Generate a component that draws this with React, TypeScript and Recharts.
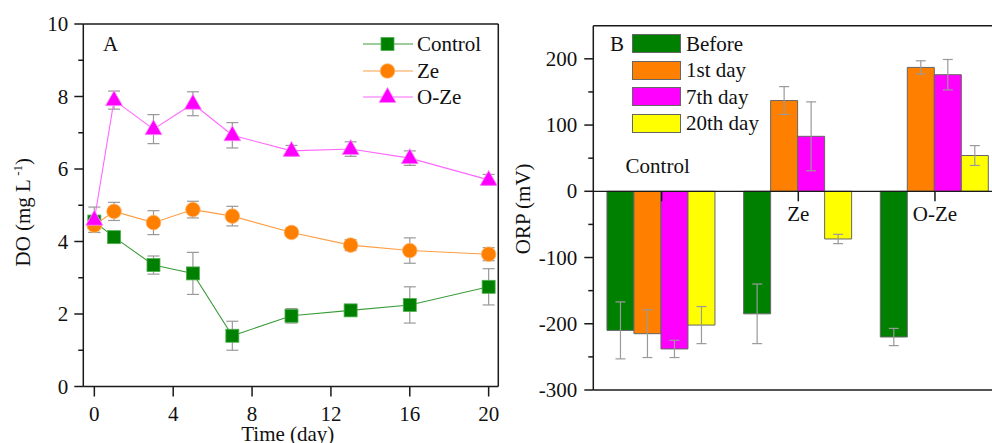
import React from 'react'
import {
  LineChart,
  Line,
  BarChart,
  Bar,
  XAxis,
  YAxis,
  ErrorBar,
  Legend,
  ReferenceLine,
} from 'recharts'

const FONT = '"Liberation Serif", "Times New Roman", Times, serif'
const AXIS = '#1a1a1a'
const ERR = '#9a9a9a'
const FS = 21

// Panel A - dissolved oxygen over time
const days = [0, 1, 3, 5, 7, 10, 13, 16, 20]
const controlDO = [4.55, 4.12, 3.35, 3.12, 1.4, 1.95, 2.1, 2.25, 2.75]
const controlErr = [0.15, 0.1, 0.25, 0.58, 0.4, 0.2, 0.1, 0.5, 0.5]
const zeDO = [4.45, 4.83, 4.52, 4.88, 4.7, 4.25, 3.9, 3.75, 3.65]
const zeErr = [0.2, 0.25, 0.33, 0.23, 0.27, 0.1, 0.15, 0.35, 0.18]
const oZeDO = [4.6, 7.9, 7.1, 7.8, 6.93, 6.5, 6.55, 6.3, 5.7]
const oZeErr = [0.35, 0.25, 0.4, 0.33, 0.35, 0.15, 0.2, 0.2, 0.15]
const dayTicks = [0, 4, 8, 12, 16, 20]
const doTicks = [0, 1, 2, 3, 4, 5, 6, 7, 8, 9, 10]
const doLabels = [0, 2, 4, 6, 8, 10]

// Panel B - ORP
const groups = ['Control', 'Ze', 'O-Ze']
const before = [-210, -185, -220]
const beforeErr = [43, 45, 13]
const day1 = [-215, 137, 187]
const day1Err = [36, 21, 10]
const day7 = [-238, 83, 176]
const day7Err = [13, 52, 23]
const day20 = [-202, -72, 54]
const day20Err = [28, 7, 15]
const orpTicks = [-300, -250, -200, -150, -100, -50, 0, 50, 100, 150, 200]
const orpLabels = [-300, -200, -100, 0, 100, 200]
const ORP_MIN = -300
const ORP_MAX = 250

const doRows = days.map((d, i) => ({
  day: d,
  control: controlDO[i],
  controlErr: controlErr[i],
  ze: zeDO[i],
  zeErr: zeErr[i],
  oze: oZeDO[i],
  ozeErr: oZeErr[i],
}))

const orpRows = groups.map((g, i) => ({
  name: g,
  before: before[i],
  beforeErr: beforeErr[i],
  day1: day1[i],
  day1Err: day1Err[i],
  day7: day7[i],
  day7Err: day7Err[i],
  day20: day20[i],
  day20Err: day20Err[i],
}))

const seriesA = [
  { key: 'control', name: 'Control', fill: '#008000', line: '#3c9c3c', shape: 'square' },
  { key: 'ze', name: 'Ze', fill: '#FF8000', line: '#ff9d45', shape: 'circle' },
  { key: 'oze', name: 'O-Ze', fill: '#FF00FF', line: '#ff66ff', shape: 'triangle' },
]

const seriesB = [
  { key: 'before', name: 'Before', fill: '#008000' },
  { key: 'day1', name: '1st day', fill: '#FF8000' },
  { key: 'day7', name: '7th day', fill: '#FF00FF' },
  { key: 'day20', name: '20th day', fill: '#FFFF00' },
]

// axes are 1px wide/high, so margins are the plot edges minus 1
const A_MARGIN = { top: 23, right: 0.7, bottom: 55.5, left: 82.3 }
const B_MARGIN = { top: 24.7, right: 6.7, bottom: 52, left: 92.3 }
const B_H = 443

function Marker({ shape, cx, cy, fill }: any) {
  if (shape === 'square') {
    return <rect x={cx - 6.5} y={cy - 6.5} width={13} height={13} fill={fill} stroke="#4fae4f" strokeWidth={0.8} />
  }
  if (shape === 'circle') {
    return <circle cx={cx} cy={cy} r={7.3} fill={fill} stroke="#ffb36b" strokeWidth={0.8} />
  }
  return (
    <polygon
      points={`${cx},${cy - 9.5} ${cx - 8.5},${cy + 5.5} ${cx + 8.5},${cy + 5.5}`}
      fill={fill}
      stroke="#ff8cff"
      strokeWidth={0.8}
    />
  )
}

const textStyle = { fontFamily: FONT, fontSize: FS, fill: '#111' }

function DayTick({ x, y, payload }: any) {
  return (
    <g>
      <line x1={x} x2={x} y1={y} y2={y + 10} stroke={AXIS} strokeWidth={1.5} />
      <text x={x} y={y + 34.5} textAnchor="middle" style={textStyle}>
        {payload.value}
      </text>
    </g>
  )
}

function DoTick({ x, y, payload }: any) {
  const v = payload.value
  const major = doLabels.includes(v)
  return (
    <g>
      <line x1={x} x2={x - (major ? 9 : 5)} y1={y} y2={y} stroke={AXIS} strokeWidth={1.5} />
      {major && (
        <text x={x - 15} y={y + 7} textAnchor="end" style={textStyle}>
          {v}
        </text>
      )}
    </g>
  )
}

function OrpTick({ x, y, payload }: any) {
  const v = payload.value
  const major = orpLabels.includes(v)
  return (
    <g>
      <line x1={x} x2={x - (major ? 9 : 5)} y1={y} y2={y} stroke={AXIS} strokeWidth={1.5} />
      {major && (
        <text x={x - 16} y={y + 7} textAnchor="end" style={textStyle}>
          {v}
        </text>
      )}
    </g>
  )
}

function GroupTick({ x, y, payload }: any) {
  const plotH = B_H - B_MARGIN.top - B_MARGIN.bottom - 2
  const zeroY = y - (plotH * (0 - ORP_MIN)) / (ORP_MAX - ORP_MIN)
  const above = payload.value === 'Control'
  return (
    <g>
      <line x1={x} x2={x} y1={zeroY} y2={zeroY + 10} stroke={AXIS} strokeWidth={1.5} />
      <text x={above ? x - 4 : x} y={above ? zeroY - 18 : zeroY + 30} textAnchor="middle" style={textStyle}>
        {payload.value}
      </text>
    </g>
  )
}

function TimeLabel({ viewBox }: any) {
  return (
    <text x={viewBox.x + viewBox.width / 2 - 3} y={viewBox.y + 54.5} textAnchor="middle" style={textStyle}>
      Time (day)
    </text>
  )
}

function DoLabel({ viewBox }: any) {
  const cx = viewBox.x + viewBox.width - 53
  const cy = viewBox.y + viewBox.height / 2 + 7
  return (
    <text x={cx} y={cy} textAnchor="middle" transform={`rotate(-90 ${cx} ${cy})`} style={textStyle}>
      DO (mg L
      <tspan dy={-8} fontSize={13}>
        {' -1'}
      </tspan>
      <tspan dy={8}>)</tspan>
    </text>
  )
}

function OrpLabel({ viewBox }: any) {
  const cx = viewBox.x + viewBox.width - 63
  const cy = viewBox.y + viewBox.height / 2 + 1
  return (
    <text x={cx} y={cy} textAnchor="middle" transform={`rotate(-90 ${cx} ${cy})`} style={textStyle}>
      ORP (mV)
    </text>
  )
}

function LegendA() {
  return (
    <div style={{ fontFamily: FONT, fontSize: FS, color: '#111' }}>
      {seriesA.map((s) => (
        <div key={s.key} style={{ display: 'flex', alignItems: 'center', height: 26.5 }}>
          <svg width={50} height={20} style={{ overflow: 'visible' }}>
            <line x1={0} x2={50} y1={10} y2={10} stroke={s.line} strokeWidth={1.2} />
            <Marker shape={s.shape} cx={24.5} cy={10} fill={s.fill} />
          </svg>
          <span style={{ marginLeft: 4, lineHeight: '26px' }}>{s.name}</span>
        </div>
      ))}
    </div>
  )
}

function LegendB() {
  return (
    <div style={{ fontFamily: FONT, fontSize: FS, color: '#111' }}>
      {seriesB.map((s) => (
        <div key={s.key} style={{ display: 'flex', alignItems: 'center', height: 26.5 }}>
          <div
            style={{
              width: 47,
              height: 17,
              background: s.fill,
              border: '1px solid #666',
            }}
          />
          <span style={{ marginLeft: 5, lineHeight: '26px' }}>{s.name}</span>
        </div>
      ))}
    </div>
  )
}

export default function App() {
  return (
    <div
      style={{
        position: 'absolute',
        left: 0,
        top: 0,
        width: 992,
        height: 443,
        overflow: 'hidden',
        background: '#fff',
      }}
    >
      <div style={{ position: 'absolute', left: 0, top: 0 }}>
        <LineChart width={500} height={443} data={doRows} margin={A_MARGIN}>
          <XAxis
            dataKey="day"
            type="number"
            domain={[-0.56, 20.49]}
            allowDataOverflow
            ticks={dayTicks}
            interval={0}
            tick={(p: any) => <DayTick {...p} />}
            tickLine={false}
            tickSize={0}
            tickMargin={0}
            height={1}
            axisLine={{ stroke: AXIS, strokeWidth: 1.5 }}
            label={(p: any) => <TimeLabel {...p} />}
          />
          <XAxis
            xAxisId="top"
            orientation="top"
            type="number"
            domain={[-0.56, 20.49]}
            tick={false}
            tickLine={false}
            height={1}
            axisLine={{ stroke: AXIS, strokeWidth: 1.5 }}
          />
          <YAxis
            type="number"
            domain={[0, 10]}
            allowDataOverflow
            ticks={doTicks}
            interval={0}
            tick={(p: any) => <DoTick {...p} />}
            tickLine={false}
            tickSize={0}
            tickMargin={0}
            width={1}
            axisLine={{ stroke: AXIS, strokeWidth: 1.5 }}
            label={(p: any) => <DoLabel {...p} />}
          />
          <YAxis
            yAxisId="right"
            orientation="right"
            type="number"
            domain={[0, 10]}
            tick={false}
            tickLine={false}
            width={1}
            axisLine={{ stroke: AXIS, strokeWidth: 1.5 }}
          />
          <Legend
            layout="vertical"
            align="center"
            verticalAlign="middle"
            wrapperStyle={{ left: 363, top: 31, width: 'auto' }}
            content={() => <LegendA />}
          />
          {seriesA.map((s) => (
            <Line
              key={s.key}
              dataKey={s.key}
              name={s.name}
              stroke={s.line}
              strokeWidth={1.1}
              isAnimationActive={false}
              dot={(p: any) => <Marker key={`${s.key}-${p.index}`} shape={s.shape} cx={p.cx} cy={p.cy} fill={s.fill} />}
              activeDot={false}
            >
              <ErrorBar dataKey={`${s.key}Err`} direction="y" width={6} stroke={ERR} strokeWidth={1.2} />
            </Line>
          ))}
        </LineChart>
      </div>

      <div style={{ position: 'absolute', left: 500, top: 0 }}>
        <BarChart
          width={510}
          height={B_H}
          data={orpRows}
          margin={B_MARGIN}
          barCategoryGap="10%"
          barGap={0}
        >
          <XAxis
            dataKey="name"
            interval={0}
            tick={(p: any) => <GroupTick {...p} />}
            tickLine={false}
            tickSize={0}
            tickMargin={0}
            height={1}
            axisLine={{ stroke: AXIS, strokeWidth: 1.5 }}
          />
          <XAxis
            xAxisId="top"
            dataKey="name"
            orientation="top"
            tick={false}
            tickLine={false}
            height={1}
            axisLine={{ stroke: AXIS, strokeWidth: 1.5 }}
          />
          <YAxis
            type="number"
            domain={[ORP_MIN, ORP_MAX]}
            allowDataOverflow
            ticks={orpTicks}
            interval={0}
            tick={(p: any) => <OrpTick {...p} />}
            tickLine={false}
            tickSize={0}
            tickMargin={0}
            width={1}
            axisLine={{ stroke: AXIS, strokeWidth: 1.5 }}
            label={(p: any) => <OrpLabel {...p} />}
          />
          <Legend
            layout="vertical"
            align="center"
            verticalAlign="middle"
            wrapperStyle={{ left: 132, top: 30.5, width: 'auto' }}
            content={() => <LegendB />}
          />
          {seriesB.map((s) => (
            <Bar
              key={s.key}
              dataKey={s.key}
              name={s.name}
              fill={s.fill}
              stroke="#666"
              strokeWidth={1}
              isAnimationActive={false}
            >
              <ErrorBar dataKey={`${s.key}Err`} direction="y" width={5} stroke={ERR} strokeWidth={1.2} />
            </Bar>
          ))}
          <ReferenceLine y={0} stroke={AXIS} strokeWidth={1.3} />
        </BarChart>
      </div>

      <div
        style={{
          position: 'absolute',
          left: 103,
          top: 31,
          lineHeight: '26px',
          fontFamily: FONT,
          fontSize: FS,
          color: '#111',
        }}
      >
        A
      </div>
      <div
        style={{
          position: 'absolute',
          left: 610,
          top: 31,
          lineHeight: '26px',
          fontFamily: FONT,
          fontSize: FS,
          color: '#111',
        }}
      >
        B
      </div>
    </div>
  )
}
